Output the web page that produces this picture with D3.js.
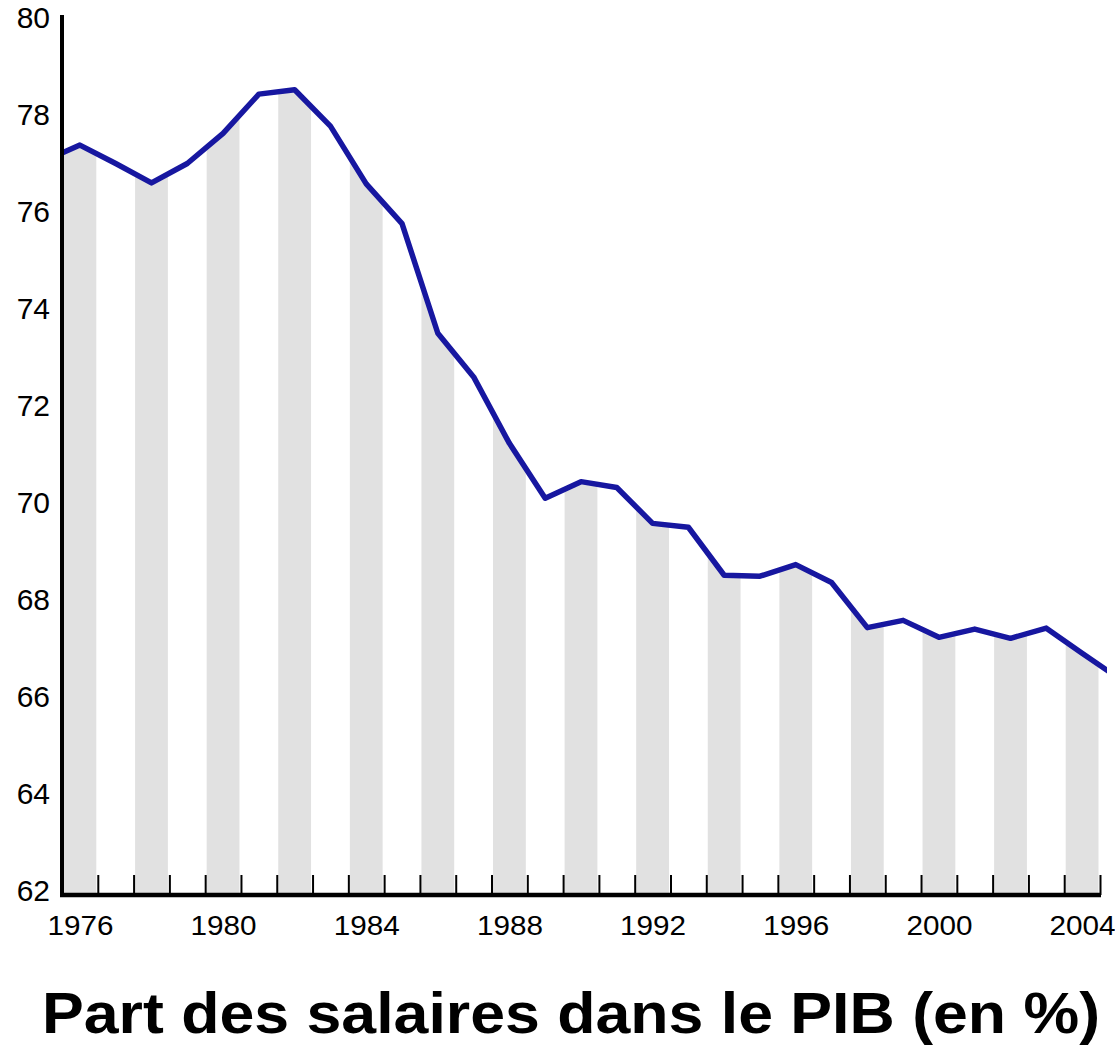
<!DOCTYPE html>
<html>
<head>
<meta charset="utf-8">
<script src="https://cdn.jsdelivr.net/npm/d3@7"></script>
<style>
  body { margin: 0; background: #fff; }
  text { font-family: "Liberation Sans", Arial, sans-serif; }
</style>
</head>
<body>
<script>
// years of the series (1975 and 2005 only show as the clipped ends of the line)
const years = [1975, 1976, 1977, 1978, 1979, 1980, 1981, 1982, 1983, 1984, 1985,
  1986, 1987, 1988, 1989, 1990, 1991, 1992, 1993, 1994, 1995, 1996, 1997,
  1998, 1999, 2000, 2001, 2002, 2003, 2004, 2005];
// part des salaires dans le PIB, en %
const wageShare = [77.05, 77.38, 77.0, 76.6, 77.0, 77.62, 78.43, 78.52, 77.77, 76.58, 75.76,
  73.5, 72.6, 71.23, 70.1, 70.44, 70.32, 69.58, 69.5, 68.51, 68.49, 68.73, 68.36,
  67.43, 67.58, 67.23, 67.4, 67.21, 67.42, 66.9, 66.4];
const yearLabels = [1976, 1980, 1984, 1988, 1992, 1996, 2000, 2004];
const yTicks = [62, 64, 66, 68, 70, 72, 74, 76, 78, 80];
const title = "Part des salaires dans le PIB (en %)";

const width = 1115;
const height = 1045;

const data = years.map((yr, i) => ({ year: yr, value: wageShare[i] }));
const shownYears = years.filter(yr => yr >= 1976 && yr <= 2004);

const svg = d3.select('body')
  .append('svg')
  .attr('width', width)
  .attr('height', height)
  .style('background', '#fff');

// each year is a band, centred on the year
const x = d3.scaleLinear()
  .domain([1975.5, 2004.5])
  .range([62, 1100]);

const y = d3.scaleLinear()
  .domain([62, 80])
  .range([891, 18]);

const defs = svg.append('defs');

// grey stripes on even years, filled up to the curve
const stripes = defs.append('clipPath').attr('id', 'stripes');
stripes.selectAll('rect')
  .data(shownYears.filter(yr => yr % 2 === 0))
  .join('rect')
  .attr('x', d => x(d - 0.5) + 1.5)
  .attr('width', d => x(d + 0.5) - x(d - 0.5) - 3)
  .attr('y', y(80))
  .attr('height', y(62) - y(80) + 4);

defs.append('clipPath').attr('id', 'plot')
  .append('rect')
  .attr('x', x(1975.5))
  .attr('y', 0)
  .attr('width', x(2004.5) - x(1975.5) + 7)
  .attr('height', y(62));

svg.append('path')
  .datum(data)
  .attr('clip-path', 'url(#stripes)')
  .attr('fill', '#e1e1e1')
  .attr('d', d3.area()
    .x(d => x(d.year))
    .y0(y(62) + 2)
    .y1(d => y(d.value)));

// line
svg.append('path')
  .datum(data)
  .attr('clip-path', 'url(#plot)')
  .attr('fill', 'none')
  .attr('stroke', '#1717a0')
  .attr('stroke-width', 5.5)
  .attr('stroke-linejoin', 'round')
  .attr('d', d3.line()
    .x(d => x(d.year))
    .y(d => y(d.value)));

// x-axis: ticks on band edges
const edges = shownYears.map(yr => yr + 0.5);
const gx = svg.append('g')
  .attr('transform', `translate(0,${y(62) + 4})`)
  .call(d3.axisBottom(x)
    .tickValues(edges)
    .tickSize(-20)
    .tickSizeOuter(0)
    .tickFormat(''));
gx.select('.domain')
  .attr('d', `M${x(1975.5) - 2},0H${x(2004.5) + 1}`)
  .attr('stroke', '#000')
  .attr('stroke-width', 4.5);
gx.selectAll('.tick line')
  .attr('stroke', '#000')
  .attr('stroke-width', 2);

// x-axis labels, centred in the year band
svg.append('g')
  .attr('transform', `translate(0,${y(62)})`)
  .call(d3.axisBottom(x)
    .tickValues(yearLabels)
    .tickSize(0)
    .tickPadding(24)
    .tickFormat(d3.format('d')))
  .call(g => g.select('.domain').remove())
  .selectAll('text')
  .style('font-family', '"Liberation Sans", Arial, sans-serif')
  .style('font-size', '27.5px')
  .attr('fill', '#000')
  .attr('textLength', 66)
  .attr('lengthAdjust', 'spacingAndGlyphs');

// y-axis
const gy = svg.append('g')
  .attr('transform', `translate(${x(1975.5)},0)`)
  .call(d3.axisLeft(y)
    .tickValues(yTicks)
    .tickSize(0)
    .tickPadding(12)
    .tickFormat(d3.format('d')));
gy.select('.domain')
  .attr('d', `M0,${y(80) - 3}V${y(62) + 6}`)
  .attr('stroke', '#000')
  .attr('stroke-width', 4);
gy.selectAll('text')
  .style('font-family', '"Liberation Sans", Arial, sans-serif')
  .style('font-size', '30px')
  .attr('fill', '#000');

// title
svg.append('text')
  .attr('x', 571)
  .attr('y', 1033)
  .attr('text-anchor', 'middle')
  .attr('textLength', 1058)
  .attr('lengthAdjust', 'spacingAndGlyphs')
  .style('font-size', '57px')
  .style('font-weight', 'bold')
  .attr('fill', '#000')
  .text(title);
</script>
</body>
</html>
